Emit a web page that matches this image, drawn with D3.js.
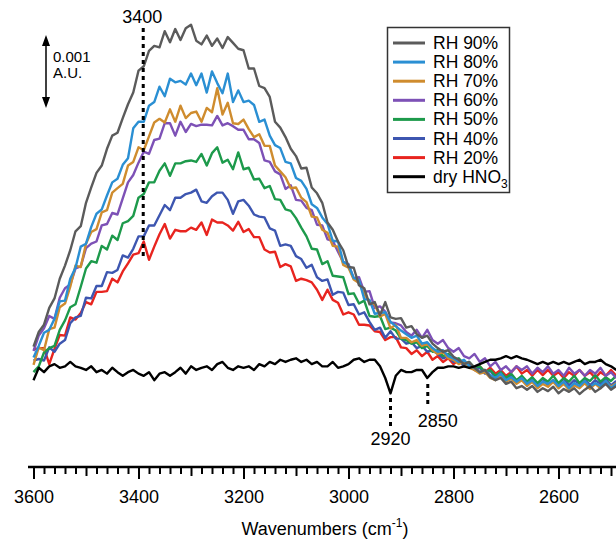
<!DOCTYPE html>
<html lang="en">
<head>
<meta charset="UTF-8">
<title>IR spectra vs RH</title>
<script src="https://d3js.org/d3.v7.min.js"></script>
<style>
  body { margin: 0; padding: 0; background: #fff; }
  svg { display: block; font-family: "Liberation Sans", Arial, sans-serif; }
</style>
</head>
<body>
<script>
// wavenumber grid (cm-1), 10 cm-1 steps
var wavenumbers = d3.range(3600, 2489, -10);

// absorbance in units of 0.001 A.U. (offset baseline)
var rh90 = [0.32,0.52,0.62,0.85,0.98,1.25,1.43,1.64,1.90,1.97,
  2.29,2.50,2.70,2.80,3.03,3.21,3.25,3.45,3.64,3.80,
  4.10,4.16,4.37,4.44,4.42,4.64,4.49,4.67,4.52,4.68,
  4.73,4.51,4.46,4.58,4.44,4.54,4.41,4.56,4.48,4.40,
  4.38,4.13,4.13,3.89,3.86,3.74,3.40,3.32,3.19,3.03,
  2.93,2.76,2.77,2.50,2.42,2.29,2.02,1.92,1.76,1.64,
  1.41,1.40,1.16,1.12,0.90,0.93,0.75,0.93,0.72,0.70,
  0.71,0.58,0.60,0.49,0.44,0.47,0.36,0.30,0.25,0.27,
  0.18,0.14,0.08,0.11,0.03,-0.03,0,-0.10,-0.14,-0.11,
  -0.19,-0.16,-0.25,-0.22,-0.27,-0.22,-0.30,-0.25,-0.29,-0.23,
  -0.32,-0.26,-0.30,-0.25,-0.33,-0.27,-0.22,-0.30,-0.25,-0.19,
  -0.27,-0.22];
var rh80 = [0.17,0.33,0.51,0.55,0.70,0.94,0.95,1.25,1.40,1.69,
  1.73,1.96,2.14,2.20,2.39,2.57,2.62,2.81,2.90,3.31,
  3.40,3.40,3.62,3.67,3.88,3.75,3.99,3.94,3.96,3.91,
  4.06,3.90,4.06,3.80,4.09,3.93,3.79,4.06,3.67,3.83,
  3.67,3.69,3.63,3.40,3.43,3.21,3.08,3.04,2.85,2.83,
  2.63,2.59,2.48,2.27,2.22,2.09,2.00,1.77,1.76,1.48,
  1.44,1.26,1.23,0.97,0.96,0.77,0.78,0.79,0.66,0.60,
  0.54,0.49,0.44,0.47,0.36,0.38,0.30,0.25,0.27,0.19,
  0.16,0.11,0.14,0.05,0.03,-0.03,0,-0.07,-0.11,-0.05,
  -0.14,-0.10,-0.16,-0.11,-0.19,-0.14,-0.22,-0.16,-0.19,-0.14,
  -0.22,-0.16,-0.25,-0.18,-0.22,-0.15,-0.23,-0.18,-0.22,-0.15,
  -0.25,-0.19];
var rh70 = [0.07,0.31,0.27,0.56,0.58,0.86,0.91,1.14,1.43,1.41,
  1.73,1.89,1.93,2.16,2.19,2.43,2.49,2.55,2.80,2.85,
  3.05,3.01,3.20,3.39,3.44,3.39,3.57,3.40,3.62,3.45,
  3.52,3.54,3.40,3.59,3.53,3.86,3.50,3.66,3.38,3.37,
  3.43,3.30,3.19,3.23,3.07,3.07,2.80,2.72,2.64,2.49,
  2.50,2.36,2.30,2.10,2.09,1.92,1.88,1.70,1.69,1.44,
  1.40,1.24,1.19,1.04,0.93,0.90,0.73,0.77,0.57,0.62,
  0.44,0.44,0.38,0.41,0.33,0.36,0.27,0.22,0.25,0.16,
  0.14,0.08,0.11,0.03,0,-0.05,-0.03,-0.11,-0.14,-0.08,
  -0.16,-0.12,-0.19,-0.14,-0.22,-0.16,-0.25,-0.19,-0.23,-0.16,
  -0.25,-0.19,-0.27,-0.21,-0.25,-0.18,-0.26,-0.19,-0.25,-0.16,
  -0.23,-0.18];
var rh60 = [0.26,0.47,0.57,0.74,0.70,0.99,1.12,1.17,1.39,1.42,
  1.67,1.73,1.76,1.98,2.00,2.15,2.13,2.35,2.57,2.67,
  2.84,2.99,2.96,3.15,3.17,3.38,3.38,3.21,3.40,3.26,
  3.37,3.34,3.36,3.36,3.35,3.48,3.35,3.38,3.34,3.29,
  3.29,3.16,3.16,3.11,2.87,2.85,2.72,2.68,2.48,2.53,
  2.33,2.32,2.22,2.19,1.99,1.98,1.79,1.77,1.62,1.48,
  1.45,1.25,1.27,1.07,1.08,0.85,0.87,0.80,0.65,0.64,
  0.61,0.52,0.47,0.55,0.44,0.55,0.41,0.36,0.41,0.30,
  0.25,0.30,0.19,0.16,0.22,0.11,0.16,0.05,0.11,0,
  0.05,-0.03,0.05,0,0.05,-0.05,0.03,-0.03,0.05,-0.05,
  0,-0.08,0.03,-0.05,0,-0.08,0,-0.05,0.03,-0.08,
  -0.03,-0.11];
var rh50 = [-0.03,0.05,0.24,0.30,0.33,0.55,0.68,0.86,0.90,1.14,
  1.39,1.49,1.47,1.70,1.65,1.84,1.78,2.01,2.04,2.11,
  2.36,2.41,2.57,2.57,2.73,2.83,2.66,2.83,2.83,2.86,
  2.87,2.85,2.96,2.80,2.97,3.05,2.84,2.88,2.75,2.98,
  2.75,2.77,2.61,2.62,2.49,2.52,2.34,2.33,2.20,2.18,
  2.08,1.95,1.83,1.66,1.65,1.45,1.49,1.29,1.28,1.27,
  1.04,1.05,0.91,0.95,0.74,0.73,0.74,0.56,0.58,0.54,
  0.43,0.41,0.36,0.38,0.30,0.33,0.25,0.27,0.19,0.22,
  0.14,0.16,0.08,0.11,0.03,0.05,-0.03,0,-0.08,-0.03,
  -0.11,-0.05,-0.14,-0.08,-0.16,-0.10,-0.18,-0.11,-0.16,-0.08,
  -0.18,-0.11,-0.16,-0.08,-0.18,-0.11,-0.15,-0.07,-0.16,-0.10,
  -0.15,-0.08];
var rh40 = [0.13,0.15,0.13,0.31,0.25,0.36,0.41,0.64,0.72,0.74,
  0.99,0.98,1.15,1.15,1.34,1.33,1.37,1.57,1.54,1.66,
  1.83,1.83,1.98,1.98,2.12,2.26,2.19,2.36,2.36,2.41,
  2.43,2.47,2.31,2.29,2.38,2.43,2.43,2.33,2.14,2.31,
  2.33,2.25,2.13,2.10,2.09,1.94,1.91,1.70,1.72,1.70,
  1.56,1.52,1.40,1.44,1.27,1.22,1.24,1.03,1.07,1.06,
  0.89,0.90,0.76,0.79,0.66,0.55,0.58,0.44,0.53,0.43,
  0.43,0.36,0.38,0.30,0.33,0.25,0.27,0.22,0.16,0.19,
  0.11,0.14,0.05,0.08,0,0.03,-0.05,-0.01,-0.10,-0.04,
  -0.12,-0.07,-0.15,-0.10,-0.18,-0.11,-0.19,-0.12,-0.21,-0.14,
  -0.19,-0.12,-0.21,-0.14,-0.19,-0.12,-0.21,-0.14,-0.19,-0.12,
  -0.21,-0.15];
var rh20 = [0.28,0.30,0.30,0.08,0.29,0.48,0.47,0.72,0.69,0.78,
  0.93,0.90,1.07,1.07,1.08,1.25,1.20,1.35,1.46,1.58,
  1.60,1.76,1.51,1.69,1.86,2.00,1.80,1.92,1.90,1.90,
  1.95,1.92,2.02,1.85,2.06,2.02,2.02,1.98,1.91,2.03,
  1.89,1.93,1.82,1.82,1.65,1.61,1.62,1.41,1.45,1.42,
  1.22,1.25,1.23,1.20,1.10,0.96,1.10,0.96,0.92,0.76,
  0.79,0.76,0.62,0.62,0.61,0.53,0.52,0.41,0.45,0.45,
  0.31,0.30,0.22,0.27,0.19,0.25,0.14,0.19,0.11,0.16,
  0.08,0.14,0.05,0.08,0,0.05,-0.03,0.03,-0.05,0,
  -0.08,-0.03,0.05,-0.05,0,-0.08,0,-0.07,0,-0.08,
  -0.03,-0.11,-0.03,-0.08,0,-0.08,-0.03,-0.11,-0.03,-0.08,
  0,-0.08];
var dryHNO3 = [-0.14,0.03,-0.03,0.05,0.08,0.03,0.05,0.11,0.05,0.03,
  0,0.05,-0.03,0,-0.05,0.03,-0.03,-0.08,-0.03,0,
  -0.05,-0.08,-0.03,-0.14,-0.05,-0.03,-0.08,-0.03,0.03,-0.05,
  0.05,0,0.03,0.05,0,0.08,0.11,0.03,0,0.05,
  0.03,0.05,0,0.08,0.05,0.11,0.08,0.14,0.11,0.14,
  0.16,0.11,0.14,0.08,0.11,0.05,0.05,0.11,0.03,0.05,
  0.08,0.14,0.16,0.11,0.14,0.14,0.05,-0.11,-0.32,-0.08,
  0,-0.03,-0.03,0,0,-0.11,-0.03,0.03,0.03,0.05,
  0.05,0.03,0.05,0.03,0.05,0.08,0.11,0.14,0.14,0.16,
  0.19,0.16,0.19,0.16,0.14,0.11,0.08,0.11,0.08,0.11,
  0.08,0.11,0.08,0.11,0.14,0.08,0.11,0.11,0.14,0.08,
  0.05,0];

var seriesNames = ["RH 90%", "RH 80%", "RH 70%", "RH 60%", "RH 50%", "RH 40%", "RH 20%", "dry HNO3"];
var seriesValues = [rh90, rh80, rh70, rh60, rh50, rh40, rh20, dryHNO3];
var seriesColors = ["#5b5b5b", "#2a8fd3", "#cf8c2e", "#7d51b6", "#1d9a4b", "#3d56b0", "#e8241f", "#000000"];

var majorTicks = [3600, 3400, 3200, 3000, 2800, 2600];
var peakMarks = [{wn: 3391, label: "3400"}, {wn: 2920, label: "2920"}, {wn: 2849, label: "2850"}];

var width = 616, height = 539;
var axisY = 467;

var x = d3.scaleLinear().domain([3600, 2490]).range([33.5, 616.25]);
var y = d3.scaleLinear().domain([-1.329, 5.068]).range([axisY, 0]);

var svg = d3.select("body").append("svg")
  .attr("width", width)
  .attr("height", height);

// spectra (draw order: lowest RH first, dry on top)
var line = d3.line()
  .x(function(d, i) { return x(wavenumbers[i]); })
  .y(function(d) { return y(d); });

var order = [6, 5, 4, 3, 2, 1, 0, 7];
order.forEach(function(k) {
  svg.append("path")
    .datum(seriesValues[k])
    .attr("d", line)
    .attr("fill", "none")
    .attr("stroke", seriesColors[k])
    .attr("stroke-width", 2.4)
    .attr("stroke-linejoin", "round");
});

// dotted peak markers
var dots = svg.append("g")
  .attr("stroke", "#000")
  .attr("stroke-width", 3)
  .attr("stroke-dasharray", "4,4");
dots.append("line").attr("x1", x(peakMarks[0].wn)).attr("x2", x(peakMarks[0].wn)).attr("y1", 28).attr("y2", 258);
dots.append("line").attr("x1", x(peakMarks[1].wn)).attr("x2", x(peakMarks[1].wn)).attr("y1", 398).attr("y2", 426);
dots.append("line").attr("x1", x(peakMarks[2].wn)).attr("x2", x(peakMarks[2].wn)).attr("y1", 384).attr("y2", 406);

svg.append("text").attr("x", x(peakMarks[0].wn) - 1).attr("y", 23).attr("text-anchor", "middle")
  .attr("font-size", 18).text(peakMarks[0].label);
svg.append("text").attr("x", x(peakMarks[1].wn)).attr("y", 445).attr("text-anchor", "middle")
  .attr("font-size", 18).text(peakMarks[1].label);
svg.append("text").attr("x", x(peakMarks[2].wn) + 10).attr("y", 427).attr("text-anchor", "middle")
  .attr("font-size", 18).text(peakMarks[2].label);

// scale bar: 0.001 A.U.
var barX = 46, barTop = y(4.59), barBot = y(3.59);
svg.append("line").attr("x1", barX).attr("x2", barX).attr("y1", barTop + 6).attr("y2", barBot - 6)
  .attr("stroke", "#000").attr("stroke-width", 1.5);
svg.append("path")
  .attr("d", "M" + barX + "," + barTop + " l-4,11 l8,0 z M" + barX + "," + barBot + " l-4,-11 l8,0 z")
  .attr("fill", "#000");
svg.append("text").attr("x", 53).attr("y", 62).attr("font-size", 15).text("0.001");
svg.append("text").attr("x", 53).attr("y", 78).attr("font-size", 15).text("A.U.");

// x axis
var gx = svg.append("g").attr("transform", "translate(0," + axisY + ")");
gx.append("g")
  .call(d3.axisBottom(x).tickValues(d3.range(3600, 2489, -20).filter(function(v) { return v % 100 !== 0; }))
    .tickSize(7).tickFormat(""));
gx.append("g")
  .call(d3.axisBottom(x).tickValues([3500, 3300, 3100, 2900, 2700, 2500]).tickSize(9).tickFormat(""));
gx.append("g")
  .call(d3.axisBottom(x).tickValues(majorTicks).tickSize(12).tickPadding(11).tickFormat(d3.format("d")));
gx.selectAll(".domain").remove();
gx.selectAll(".tick line").attr("stroke", "#000").attr("stroke-width", 2);
gx.selectAll(".tick text").attr("font-size", 18).attr("fill", "#000")
  .attr("font-family", "Liberation Sans, Arial, sans-serif");
gx.append("line").attr("x1", 28).attr("x2", 616).attr("y1", 0).attr("y2", 0)
  .attr("stroke", "#000").attr("stroke-width", 2.5);

var title = svg.append("text").attr("x", 325).attr("y", 535).attr("text-anchor", "middle").attr("font-size", 18);
title.append("tspan").text("Wavenumbers (cm");
title.append("tspan").attr("dy", -8).attr("font-size", 12).text("-1");
title.append("tspan").attr("dy", 8).text(")");

// legend
var lg = svg.append("g");
lg.append("rect").attr("x", 387.5).attr("y", 27.5).attr("width", 122).attr("height", 165)
  .attr("fill", "#fff").attr("stroke", "#333").attr("stroke-width", 1.5);
seriesNames.forEach(function(name, k) {
  var ry = 43 + k * 19.1;
  lg.append("line").attr("x1", 393).attr("x2", 425).attr("y1", ry).attr("y2", ry)
    .attr("stroke", seriesColors[k]).attr("stroke-width", 3);
  var t = lg.append("text").attr("x", 433).attr("y", ry + 6).attr("font-size", 17.5);
  if (name === "dry HNO3") {
    t.append("tspan").text("dry HNO");
    t.append("tspan").attr("dy", 5).attr("font-size", 12).text("3");
  } else {
    t.text(name);
  }
});
</script>
</body>
</html>
